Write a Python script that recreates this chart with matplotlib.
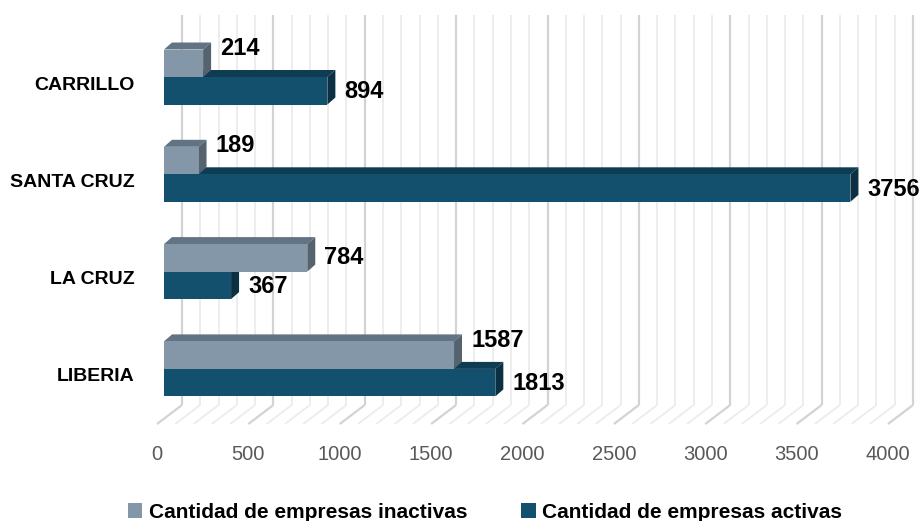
import matplotlib
matplotlib.use("Agg")
import matplotlib.pyplot as plt
from matplotlib.patches import Polygon, Patch

plt.rcParams['font.family'] = ['Liberation Sans', 'DejaVu Sans']

# ---- data ----
categories = ["CARRILLO", "SANTA CRUZ", "LA CRUZ", "LIBERIA"]
inactivas = [214, 189, 784, 1587]
activas = [894, 3756, 367, 1813]
series_names = ["Cantidad de empresas inactivas", "Cantidad de empresas activas"]
x_ticks = [0, 500, 1000, 1500, 2000, 2500, 3000, 3500, 4000]

# ---- style ----
C_IN_FRONT, C_IN_TOP, C_IN_SIDE = "#8497A9", "#627383", "#55636F"
C_AC_FRONT, C_AC_TOP, C_AC_SIDE = "#13506D", "#0E3C52", "#0B3042"
W, H = 923, 521

fig = plt.figure(figsize=(W / 100, H / 100), dpi=100)
ax = fig.add_axes([0, 0, 1, 1])
ax.axis("off")

S = 0.18275      # px per unit
X0 = 164         # px of value 0 (bar front face)
YS = 97.3        # px per category
Y0 = 77          # px of first category split
ax.set_xlim(-X0 / S, (W - X0) / S)
ax.set_ylim((H - Y0) / YS, -Y0 / YS)


def dx(px):
    return px / S


def dy(px):
    return px / YS


# ---- back wall & floor grid ----
y_top = dy(15 - Y0)
y_floor = dy(405 - Y0)
for v in range(0, 4001, 100):
    major = v % 500 == 0
    col = "#d3d3d3" if major else "#ececec"
    lw = 1.6 if major else 1.3
    xb = v + dx(18)
    ax.plot([xb, xb], [y_top, y_floor], color=col, lw=lw, zorder=1,
            solid_capstyle="butt")
    ax.plot([xb, v - dx(7)], [y_floor, y_floor + dy(19)], color=col, lw=lw,
            zorder=1, solid_capstyle="butt")

for t in x_ticks:
    ax.text(t - dx(7), dy(454 - Y0), str(t), ha="center", va="center",
            fontsize=14.5, color="#595959")

# ---- bars ----
h = dy(27.5)
ddx, ddy = dx(8), dy(7)


def bar3d(y0, val, cf, ct, cs, z):
    y1 = y0 + h
    top = Polygon([(0, y0), (val, y0), (val + ddx, y0 - ddy), (ddx, y0 - ddy)],
                  closed=True, facecolor=ct, edgecolor="none", zorder=z)
    side = Polygon([(val, y0), (val + ddx, y0 - ddy), (val + ddx, y1 - ddy), (val, y1)],
                   closed=True, facecolor=cs, edgecolor="none", zorder=z)
    ax.add_patch(top)
    ax.add_patch(side)
    ax.barh(y0, val, height=h, left=0, align="edge", color=cf, zorder=z,
            linewidth=0)


for i, cat in enumerate(categories):
    a = activas[i]
    n = inactivas[i]
    bar3d(i, a, C_AC_FRONT, C_AC_TOP, C_AC_SIDE, 3 + i * 0.01)
    bar3d(i - h, n, C_IN_FRONT, C_IN_TOP, C_IN_SIDE, 4 + i * 0.01)

    ax.text(a + dx(17), i + h / 2 + dy(1), str(a), ha="left", va="center",
            fontsize=17, fontweight="bold", color="black", zorder=6)
    ny = (i - h / 2) if n > a else (i - h - dy(1))
    ax.text(n + dx(17), ny, str(n), ha="left", va="center",
            fontsize=17, fontweight="bold", color="black", zorder=6)

    ax.text(-dx(X0 - 135), i + dy(8), cat, ha="right", va="center",
            fontsize=14, fontweight="bold", color="black")

# ---- legend ----
handles = [Patch(facecolor=C_IN_FRONT), Patch(facecolor=C_AC_FRONT)]
fig.legend(handles, series_names, loc="center",
           bbox_to_anchor=(485 / W, 1 - 512 / H), ncol=2, frameon=False,
           handlelength=0.7, handleheight=0.7, handletextpad=0.3,
           columnspacing=2.6, borderpad=0, borderaxespad=0,
           prop=dict(weight="bold", size=15))

fig.savefig("out.png", dpi=100)
